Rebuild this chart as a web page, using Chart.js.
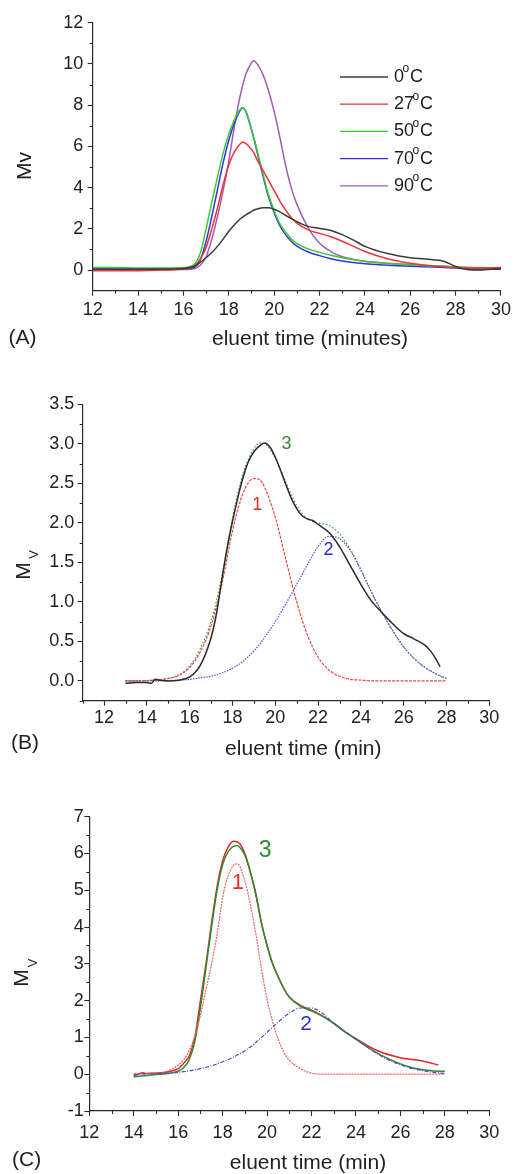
<!DOCTYPE html>
<html>
<head>
<meta charset="utf-8">
<script src="https://cdn.jsdelivr.net/npm/chart.js@4.4.1/dist/chart.umd.min.js"></script>
<style>
  html, body { margin: 0; padding: 0; background: #fff; }
  body { width: 515px; height: 1174px; position: relative; overflow: hidden; }
  canvas { position: absolute; left: 0; }
</style>
</head>
<body>
<canvas id="cA" width="515" height="360" style="top:0px;width:515px;height:360px"></canvas>
<canvas id="cB" width="515" height="390" style="top:390px;width:515px;height:390px"></canvas>
<canvas id="cC" width="515" height="394" style="top:780px;width:515px;height:394px"></canvas>
<script>
// ---------------- Panel A data ----------------
const tempLabels = ['0', '27', '50', '70', '90'];
const timeA = [12,13,14,15,16,16.5,16.75,17,17.25,17.5,17.75,18,18.25,18.5,18.6,18.75,19,19.1,19.25,19.5,19.75,20,20.25,20.5,20.75,21,21.5,22,22.5,23,23.5,24,25,26,27,27.5,28,28.5,29,30];
const mv0C  = [0.05,0.05,0.05,0.05,0.08,0.2,0.38,0.6,0.85,1.15,1.5,1.88,2.2,2.48,2.56,2.68,2.84,2.9,2.96,3.02,3.02,2.95,2.82,2.66,2.5,2.35,2.12,2.02,1.92,1.72,1.45,1.15,0.8,0.6,0.5,0.42,0.18,0.03,0.0,0.08];
const mv27C = [-0.03,-0.03,-0.03,0.0,0.05,0.2,0.55,1.1,2.0,3.0,4.15,5.1,5.75,6.12,6.2,6.15,5.85,5.7,5.35,4.85,4.35,3.85,3.35,2.92,2.55,2.28,1.95,1.78,1.62,1.4,1.15,0.9,0.55,0.33,0.2,0.15,0.12,0.1,0.1,0.12];
const mv50C = [0.12,0.12,0.1,0.1,0.12,0.3,0.85,2.0,3.3,4.5,5.66,6.6,7.3,7.8,7.88,7.7,6.85,6.45,5.8,4.7,3.65,2.9,2.25,1.85,1.52,1.28,1.03,0.86,0.72,0.6,0.5,0.42,0.32,0.26,0.2,0.18,0.15,0.13,0.12,0.1];
const mv70C = [0.03,0.03,0.03,0.03,0.05,0.15,0.5,1.4,2.6,3.9,5.2,6.3,7.15,7.75,7.88,7.7,6.8,6.4,5.72,4.6,3.55,2.8,2.15,1.72,1.4,1.16,0.88,0.7,0.55,0.44,0.37,0.31,0.23,0.18,0.15,0.13,0.1,0.06,0.04,0.04];
const mv90C = [0.02,0.02,0.02,0.02,0.03,0.08,0.25,0.65,1.5,2.6,3.85,5.3,7.0,8.45,8.9,9.5,10.05,10.15,10.0,9.5,8.7,7.7,6.45,5.1,4.0,3.2,2.05,1.3,0.9,0.65,0.52,0.43,0.33,0.26,0.2,0.18,0.15,0.12,0.1,0.05];
const xTicksA = [12,14,16,18,20,22,24,26,28,30];
const xMinorA = [13,15,17,19,21,23,25,27,29];
const yTicksA = [0,2,4,6,8,10,12];
const yMinorA = [1,3,5,7,9,11];

// ---------------- Panel B data ----------------
const timeBmeas = [13,13.5,14,14.2,14.4,14.6,15,15.5,16,16.5,17,17.25,17.5,17.75,18,18.25,18.5,18.75,19,19.25,19.5,19.75,20,20.25,20.5,20.75,21,21.25,21.5,21.75,22,22.5,23,23.5,24,24.5,25,25.5,26,26.5,27,27.25,27.5,27.7];
const measB = [-0.03,-0.02,-0.02,-0.03,0.02,0.01,0.0,0.01,0.05,0.2,0.55,0.85,1.28,1.68,2.02,2.32,2.58,2.78,2.9,2.97,3.01,2.96,2.83,2.66,2.48,2.31,2.18,2.09,2.05,2.03,1.98,1.88,1.7,1.46,1.22,1.01,0.86,0.72,0.6,0.53,0.45,0.38,0.28,0.18];
const timeBfit = [13,14,15,15.5,16,16.5,17,17.5,18,18.5,19,19.25,19.5,20,20.5,21,21.5,22,22.5,23,23.5,24,24.5,25,25.5,26,26.5,27,27.5,28];
const peak1B = [0,0.005,0.03,0.07,0.17,0.37,0.7,1.22,1.9,2.38,2.56,2.55,2.45,2.07,1.53,1.0,0.58,0.3,0.14,0.06,0.02,0.01,0,0,0,0,0,0,0,0];
const peak2B = [0,0,0.005,0.01,0.02,0.04,0.06,0.1,0.16,0.25,0.38,0.46,0.55,0.75,0.98,1.22,1.47,1.7,1.83,1.8,1.65,1.4,1.12,0.86,0.63,0.43,0.28,0.17,0.09,0.03];
const sumB = [0,0.005,0.035,0.08,0.19,0.41,0.76,1.32,2.06,2.63,2.94,3.01,3.0,2.82,2.51,2.22,2.05,2.0,1.97,1.86,1.67,1.41,1.12,0.86,0.63,0.43,0.28,0.17,0.09,0.03];
const xTicksB = [12,14,16,18,20,22,24,26,28,30];
const xMinorB = [11,13,15,17,19,21,23,25,27,29];
const yTicksB = [0,0.5,1,1.5,2,2.5,3,3.5];
const yMinorB = [-0.25,0.25,0.75,1.25,1.75,2.25,2.75,3.25];

// ---------------- Panel C data ----------------
const timeCmeas = [14,14.2,14.4,14.6,15,15.5,16,16.25,16.5,16.75,17,17.25,17.5,17.75,18,18.25,18.5,18.75,19,19.25,19.5,19.75,20,20.25,20.5,20.75,21,21.5,22,22.5,23,23.5,24,25,26,27,27.7];
const measC = [-0.05,0.0,0.04,0.02,0.03,0.06,0.15,0.3,0.5,1.0,2.0,3.0,4.1,5.1,5.8,6.18,6.33,6.28,6.0,5.5,4.9,4.1,3.5,3.0,2.65,2.33,2.1,1.87,1.74,1.58,1.39,1.16,0.97,0.63,0.45,0.36,0.25];
const timeCfit = [14,14.5,15,15.5,16,16.25,16.5,16.75,17,17.25,17.5,17.75,18,18.25,18.5,18.65,18.75,19,19.25,19.5,19.75,20,20.25,20.5,20.75,21,21.5,22,22.5,23,23.5,24,24.5,25,25.5,26,26.5,27,27.5,28];
const sumC = [-0.07,-0.04,-0.01,0.02,0.08,0.18,0.4,0.9,1.8,2.9,4.0,5.0,5.7,6.05,6.2,6.22,6.18,5.95,5.48,4.85,4.1,3.5,3.0,2.65,2.33,2.1,1.85,1.72,1.57,1.38,1.15,0.95,0.74,0.56,0.41,0.28,0.18,0.12,0.09,0.08];
const peak1C = [0,0.01,0.02,0.08,0.25,0.4,0.65,1.05,1.6,2.3,3.0,3.8,4.8,5.4,5.68,5.72,5.68,5.25,4.6,3.8,2.85,2.03,1.43,0.95,0.6,0.38,0.15,0.03,0,0,0,0,0,0,0,0,0,0,0,0];
const peak2C = [0,0.01,0.02,0.03,0.05,0.07,0.09,0.12,0.15,0.19,0.23,0.28,0.34,0.4,0.47,0.52,0.55,0.64,0.74,0.87,1.0,1.14,1.28,1.42,1.55,1.66,1.8,1.8,1.65,1.38,1.16,0.95,0.74,0.54,0.38,0.26,0.16,0.1,0.05,0.02];
const xTicksC = [12,14,16,18,20,22,24,26,28,30];
const xMinorC = [13,15,17,19,21,23,25,27,29];
const yTicksC = [-1,0,1,2,3,4,5,6,7];
const yMinorC = [-0.5,0.5,1.5,2.5,3.5,4.5,5.5,6.5];

// ---------------- helpers ----------------
const FONT = "'Liberation Sans', Arial, Helvetica, sans-serif";
const INK = '#222';
Chart.defaults.font.family = FONT;
Chart.defaults.color = INK;
const pts = (xs, ys) => xs.map((x, i) => ({ x: x, y: ys[i] }));

function line(label, xs, ys, color, width, dash) {
  return {
    label: label, data: pts(xs, ys), showLine: true, borderColor: color, backgroundColor: color,
    borderWidth: width, borderDash: dash || [], pointRadius: 0, pointHoverRadius: 0,
    cubicInterpolationMode: 'monotone', fill: false
  };
}

function axis(opts) {
  return {
    type: 'linear', min: opts.min, max: opts.max,
    afterBuildTicks: (s) => { s.ticks = opts.ticks.map(v => ({ value: v })); },
    afterFit: (s) => { if (opts.width !== undefined) s.width = opts.width; if (opts.height !== undefined) s.height = opts.height; },
    border: { display: true, color: '#2a2a2a', width: 1.2 },
    grid: { display: true, drawOnChartArea: false, drawTicks: true, tickLength: 5, color: '#2a2a2a', tickColor: '#2a2a2a', tickWidth: 1.1 },
    ticks: {
      autoSkip: false, maxRotation: 0, padding: opts.pad, color: INK,
      font: { size: 18, family: FONT },
      callback: opts.fmt || ((v) => String(v))
    },
    title: { display: false }
  };
}

// minor ticks, axis titles, annotations and legend (config captured in closure)
function decorPlugin(cfg) {
  return {
    id: 'decor',
    afterDraw(chart) {
      const ctx = chart.ctx, xs = chart.scales.x, ys = chart.scales.y, ca = chart.chartArea;
      ctx.save();
      ctx.strokeStyle = '#2a2a2a'; ctx.lineWidth = 1.1;
      (cfg.xMinor || []).forEach(v => {
        const p = Math.round(xs.getPixelForValue(v)) + 0.5;
        ctx.beginPath(); ctx.moveTo(p, ca.bottom); ctx.lineTo(p, ca.bottom + 3); ctx.stroke();
      });
      (cfg.yMinor || []).forEach(v => {
        const p = Math.round(ys.getPixelForValue(v)) + 0.5;
        ctx.beginPath(); ctx.moveTo(ca.left, p); ctx.lineTo(ca.left - 3, p); ctx.stroke();
      });
      ctx.restore();
      (cfg.texts || []).forEach(t => {
        ctx.save();
        let x = t.x, y = t.y;
        if (t.at) { x = xs.getPixelForValue(t.at[0]); y = ys.getPixelForValue(t.at[1]); }
        ctx.translate(x, y);
        if (t.rot) ctx.rotate(t.rot * Math.PI / 180);
        ctx.fillStyle = t.color || INK;
        ctx.textAlign = 'center'; ctx.textBaseline = 'middle';
        ctx.font = (t.size || 21) + 'px ' + FONT;
        ctx.fillText(t.text, 0, 0);
        if (t.sub) {
          ctx.font = t.sub.size + 'px ' + FONT;
          ctx.fillText(t.sub.text, t.sub.dx, t.sub.dy);
        }
        ctx.restore();
      });
      if (cfg.legend) {
        const L = cfg.legend;
        chart.data.datasets.forEach((ds, i) => {
          const y = L.y0 + i * L.dy;
          ctx.save();
          ctx.strokeStyle = ds.borderColor; ctx.lineWidth = 1.3;
          ctx.beginPath(); ctx.moveTo(L.x0, y); ctx.lineTo(L.x1, y); ctx.stroke();
          ctx.fillStyle = INK; ctx.textAlign = 'left'; ctx.textBaseline = 'middle';
          ctx.font = '18px ' + FONT;
          const num = L.labels[i];
          ctx.fillText(num, L.tx, y);
          const w = ctx.measureText(num).width;
          ctx.font = '12px ' + FONT;
          ctx.fillText('o', L.tx + w - 1.5, y - 8);
          ctx.font = '18px ' + FONT;
          ctx.fillText('C', L.tx + w + 6, y);
          ctx.restore();
        });
      }
    }
  };
}

function makeChart(id, datasets, cfg) {
  return new Chart(document.getElementById(id), {
    type: 'scatter',
    data: { datasets: datasets },
    options: {
      responsive: false, animation: false, devicePixelRatio: 1,
      layout: { padding: cfg.padding },
      plugins: { legend: { display: false }, tooltip: { enabled: false } },
      scales: { x: cfg.x, y: cfg.y }
    },
    plugins: [decorPlugin(cfg.decor)]
  });
}

// ---------------- Panel A ----------------
makeChart('cA', [
  line(tempLabels[0] + '°C', timeA, mv0C, '#3a3a3a', 1.5),
  line(tempLabels[1] + '°C', timeA, mv27C, '#ec3434', 1.5),
  line(tempLabels[2] + '°C', timeA, mv50C, '#36cc36', 1.5),
  line(tempLabels[3] + '°C', timeA, mv70C, '#3434d8', 1.5),
  line(tempLabels[4] + '°C', timeA, mv90C, '#a459b8', 1.5)
], {
  padding: { top: 22.7, right: 14, bottom: 0, left: 0 },
  x: axis({ min: 12, max: 30, ticks: xTicksA, height: 69.3, pad: 4 }),
  y: axis({ min: -1, max: 12, ticks: yTicksA, width: 92.7, pad: 4.5 }),
  decor: {
    xMinor: xMinorA, yMinor: yMinorA,
    texts: [
      { text: 'Mv', x: 25, y: 166, rot: -90, size: 21 },
      { text: 'eluent time (minutes)', x: 310, y: 339, size: 21 },
      { text: '(A)', x: 22.5, y: 338, size: 21 }
    ],
    legend: { labels: tempLabels, x0: 340, x1: 388, tx: 394, y0: 77, dy: 27.2 }
  }
});

// ---------------- Panel B ----------------
makeChart('cB', [
  line('measured', timeBmeas, measB, '#2a2a2a', 1.5),
  line('peak 1', timeBfit, peak1B, '#e84848', 1.2, [3, 1.2]),
  line('peak 2', timeBfit, peak2B, '#5656dc', 1.2, [1.5, 1.2]),
  line('sum 3', timeBfit, sumB, '#3f9a3f', 1.2, [1.5, 2])
], {
  padding: { top: 10, right: 25.7, bottom: 0, left: 0 },
  x: axis({ min: 11, max: 30, ticks: xTicksB, height: 79.3, pad: 1.6 }),
  y: axis({ min: -0.25, max: 3.5, ticks: yTicksB, width: 82.7, pad: 3.5, fmt: (v) => v.toFixed(1) }),
  decor: {
    xMinor: xMinorB, yMinor: yMinorB,
    texts: [
      { text: 'M', x: 24, y: 181, rot: -90, size: 21, sub: { text: 'V', size: 13, dx: 16.5, dy: 10 } },
      { text: 'eluent time (min)', x: 303.3, y: 359, size: 21 },
      { text: '(B)', x: 25, y: 353, size: 21 },
      { text: '3', at: [20.52, 3.0], size: 18, color: '#2e8c2e' },
      { text: '1', at: [19.16, 2.22], size: 18, color: '#e62a2a' },
      { text: '2', at: [22.49, 1.65], size: 18, color: '#2a2ad2' }
    ]
  }
});

// ---------------- Panel C ----------------
makeChart('cC', [
  line('peak 2', timeCfit, peak2C, '#4a4ad2', 1.2, [4, 1.5, 1, 1.5]),
  line('peak 1', timeCfit, peak1C, '#f06060', 1.2, [2, 1]),
  line('sum 3', timeCfit, sumC, '#2e8c2e', 1.5),
  line('measured', timeCmeas, measC, '#e02828', 1.5)
], {
  padding: { top: 36.7, right: 25.7, bottom: 0, left: 0 },
  x: axis({ min: 12, max: 30, ticks: xTicksC, height: 63, pad: 6.3 }),
  y: axis({ min: -1, max: 7, ticks: yTicksC, width: 89.3, pad: 0.5 }),
  decor: {
    xMinor: xMinorC, yMinor: yMinorC,
    texts: [
      { text: 'M', x: 22.5, y: 198, rot: -90, size: 21, sub: { text: 'V', size: 13, dx: 15, dy: 10.5 } },
      { text: 'eluent time (min)', x: 308, y: 383, size: 21 },
      { text: '(C)', x: 26.7, y: 380, size: 21 },
      { text: '3', at: [19.91, 6.07], size: 23, color: '#2e8c2e' },
      { text: '1', at: [18.69, 5.2], size: 22, color: '#e62a2a' },
      { text: '2', at: [21.75, 1.36], size: 21, color: '#2a2ad2' }
    ]
  }
});
</script>
</body>
</html>
